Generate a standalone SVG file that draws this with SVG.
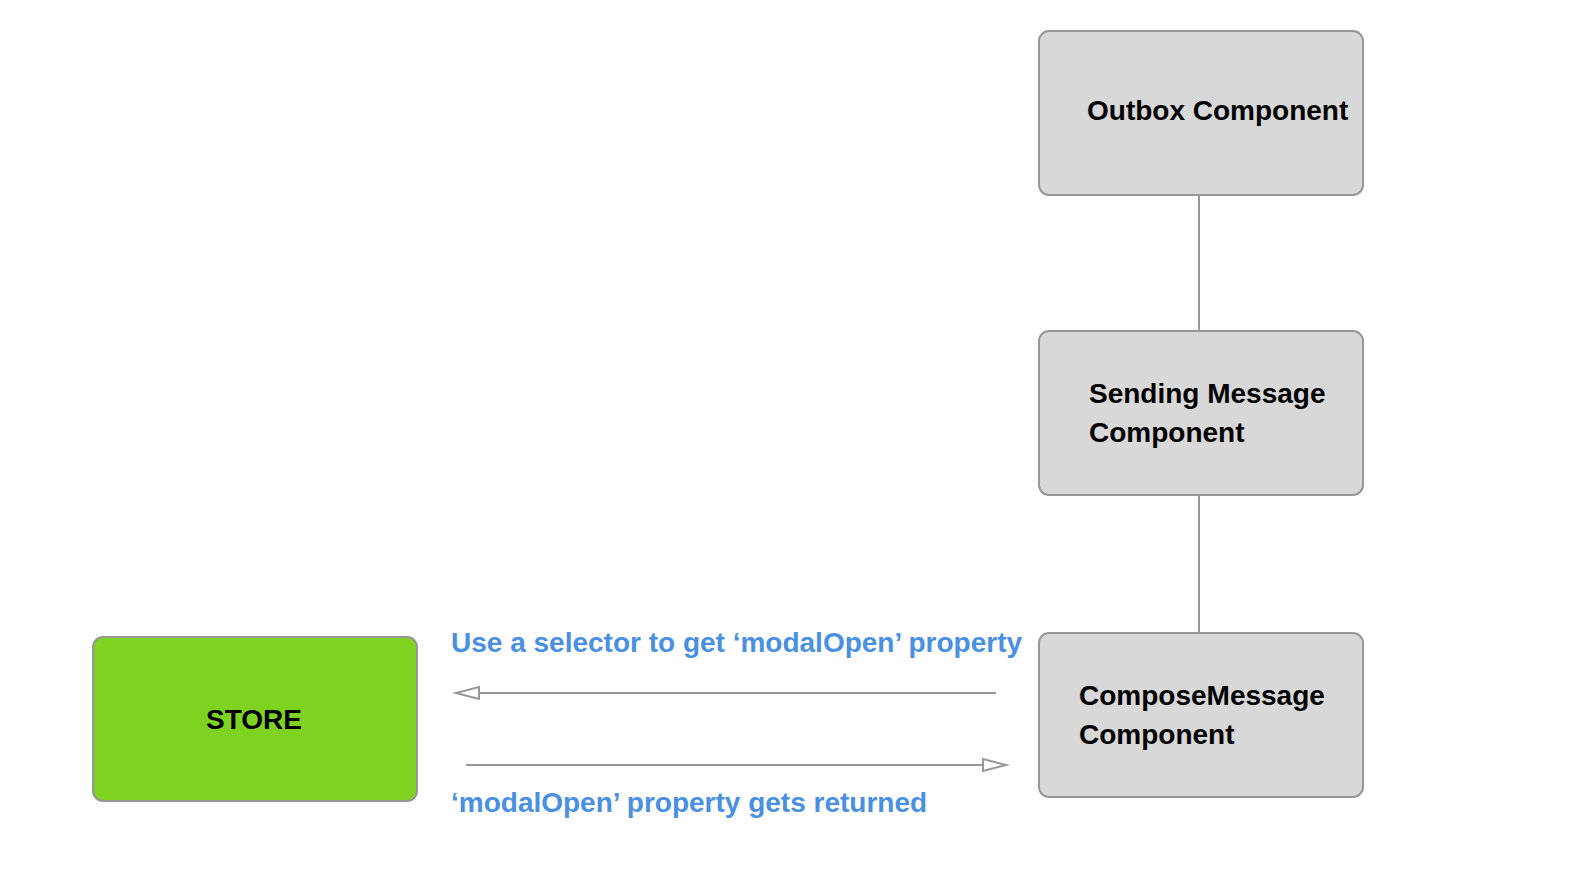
<svg xmlns="http://www.w3.org/2000/svg" width="1584" height="872" viewBox="0 0 1584 872">
<style>
.box{fill:#D8D8D8;stroke:#979797;stroke-width:2}
.store{fill:#7ED321;stroke:#979797;stroke-width:2}
.lbl{font-family:"Liberation Sans",Arial,sans-serif;font-weight:bold;font-size:28px;fill:#000}
.blue{font-family:"Liberation Sans",Arial,sans-serif;font-weight:bold;font-size:28px;fill:#4A90E2}
.conn{stroke:#979797;stroke-width:2;fill:none}
.head{stroke:#979797;stroke-width:2;fill:#fff}
</style>
<rect width="1584" height="872" fill="#fff"/>
<g id="connectors">
<line class="conn" x1="1199" y1="195" x2="1199" y2="331"/>
<line class="conn" x1="1199" y1="495" x2="1199" y2="633"/>
<line class="conn" x1="479" y1="693" x2="996" y2="693"/>
<polygon class="head" points="456,693 479,687 479,699"/>
<line class="conn" x1="466" y1="765" x2="983" y2="765"/>
<polygon class="head" points="1006,765 983,759 983,771"/>
</g>
<g id="outbox">
<rect class="box" x="1039" y="31" width="324" height="164" rx="10"/>
<text class="lbl" x="1087" y="120">Outbox Component</text>
</g>
<g id="sending">
<rect class="box" x="1039" y="331" width="324" height="164" rx="10"/>
<text class="lbl" x="1089" y="403">Sending Message</text>
<text class="lbl" x="1089" y="442">Component</text>
</g>
<g id="compose">
<rect class="box" x="1039" y="633" width="324" height="164" rx="10"/>
<text class="lbl" x="1079" y="705">ComposeMessage</text>
<text class="lbl" x="1079" y="744">Component</text>
</g>
<g id="store">
<rect class="store" x="93" y="637" width="324" height="164" rx="10"/>
<text class="lbl" x="254" y="729" text-anchor="middle">STORE</text>
</g>
<g id="labels">
<text class="blue" x="451" y="652">Use a selector to get ‘modalOpen’ property</text>
<text class="blue" x="451" y="812">‘modalOpen’ property gets returned</text>
</g>
</svg>
